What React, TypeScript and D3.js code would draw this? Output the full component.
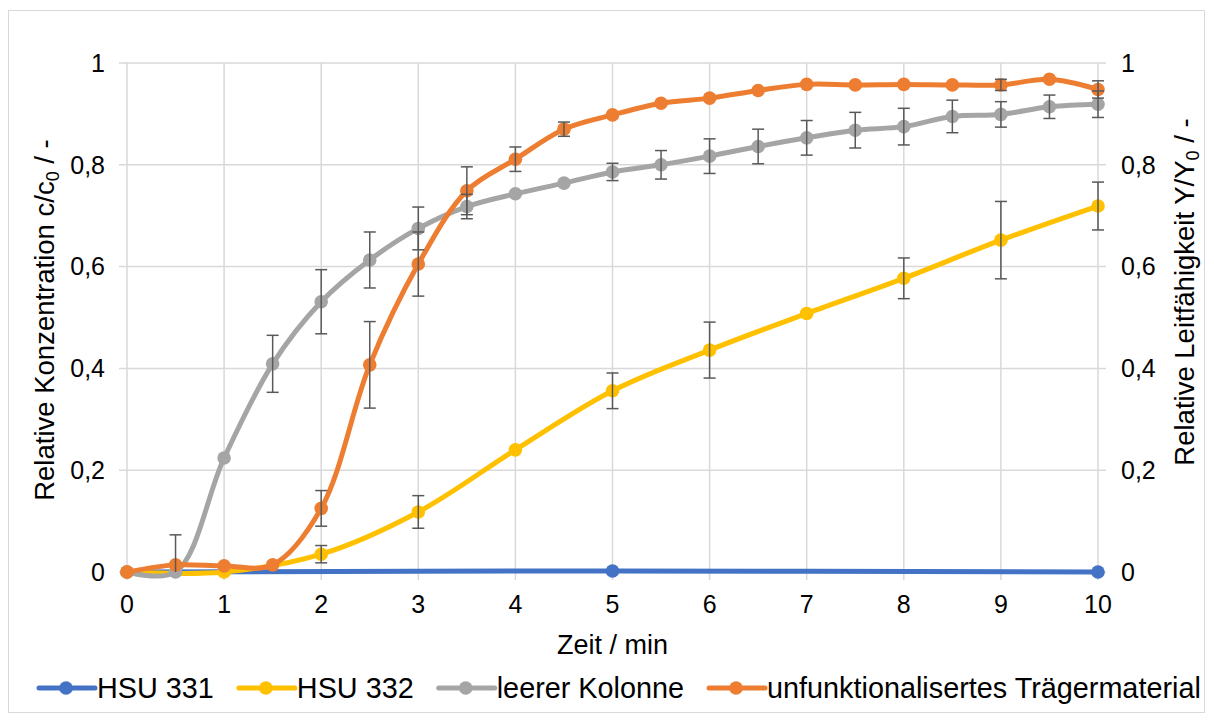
import React, { useEffect, useRef } from "react";
import * as d3 from "d3";

// Time axis (min) and measured ratios for each column run
const timeHSU331 = [0, 5, 10];
const valHSU331 = [0, 0.002, 0];
const errHSU331 = [0, 0, 0];

const timeHSU332 = [0, 1, 2, 3, 4, 5, 6, 7, 8, 9, 10];
const valHSU332 = [0, 0, 0.035, 0.118, 0.24, 0.356, 0.436, 0.508, 0.577, 0.652, 0.719];
const errHSU332 = [0, 0, 0.017, 0.032, 0, 0.035, 0.055, 0, 0.04, 0.076, 0.047];

const timeHalf = [0, 0.5, 1, 1.5, 2, 2.5, 3, 3.5, 4, 4.5, 5, 5.5, 6, 6.5, 7, 7.5, 8, 8.5, 9, 9.5, 10];
const valLeer = [0, 0, 0.224, 0.409, 0.531, 0.613, 0.675, 0.718, 0.743, 0.764, 0.786, 0.8, 0.817, 0.836, 0.853, 0.868, 0.875, 0.895, 0.899, 0.914, 0.919];
const errLeer = [0, 0.073, 0, 0.056, 0.063, 0.055, 0.042, 0.024, 0, 0, 0.017, 0.028, 0.034, 0.034, 0.034, 0.035, 0.036, 0.032, 0.025, 0.023, 0.026];

const valTraeger = [0, 0.014, 0.012, 0.014, 0.125, 0.407, 0.605, 0.749, 0.811, 0.87, 0.898, 0.921, 0.931, 0.946, 0.958, 0.957, 0.958, 0.957, 0.957, 0.968, 0.948];
const errTraeger = [0, 0, 0, 0, 0.035, 0.085, 0.063, 0.047, 0.024, 0.014, 0, 0, 0, 0, 0, 0, 0, 0, 0.011, 0, 0.017];

const seriesNames = ["HSU 331", "HSU 332", "leerer Kolonne", "unfunktionalisertes Trägermaterial"];
const seriesColors = ["#4472C4", "#FFC000", "#A5A5A5", "#ED7D31"];

const xTicks = [0, 1, 2, 3, 4, 5, 6, 7, 8, 9, 10];
const yTicks = [0, 0.2, 0.4, 0.6, 0.8, 1];
const yTickLabels = ["0", "0,2", "0,4", "0,6", "0,8", "1"];

const W = 1214;
const H = 722;
const FONT = "'Liberation Sans', Arial, sans-serif";

export default function App() {
  const ref = useRef<SVGSVGElement | null>(null);

  useEffect(() => {
    const svg = d3.select(ref.current);
    svg.selectAll("*").remove();

    const left = 127, right = 1098, top = 63, bottom = 572;
    const x = d3.scaleLinear().domain([0, 10]).range([left, right]);
    const y = d3.scaleLinear().domain([0, 1]).range([bottom, top]);

    const series = [
      { t: timeHSU331, v: valHSU331, e: errHSU331 },
      { t: timeHSU332, v: valHSU332, e: errHSU332 },
      { t: timeHalf, v: valLeer, e: errLeer },
      { t: timeHalf, v: valTraeger, e: errTraeger },
    ].map((s, i) => ({
      name: seriesNames[i],
      color: seriesColors[i],
      pts: s.t.map((t, k) => ({ t, v: s.v[k], e: s.e[k] })),
    }));

    // chart frame
    svg.append("rect")
      .attr("x", 8.5).attr("y", 10.5).attr("width", 1196).attr("height", 702)
      .attr("fill", "#fff").attr("stroke", "#D9D9D9").attr("stroke-width", 1);

    const grid = svg.append("g").attr("stroke", "#D9D9D9").attr("stroke-width", 1.5);
    yTicks.forEach((t) => {
      grid.append("line")
        .attr("x1", left - 8).attr("x2", right + 8)
        .attr("y1", y(t)).attr("y2", y(t));
    });
    xTicks.forEach((t) => {
      grid.append("line")
        .attr("x1", x(t)).attr("x2", x(t))
        .attr("y1", top).attr("y2", bottom + 8);
    });

    const txt = svg.append("g").attr("font-family", FONT).attr("fill", "#000");
    yTicks.forEach((t, i) => {
      txt.append("text").attr("x", 105).attr("y", y(t)).attr("dy", "0.35em")
        .attr("text-anchor", "end").attr("font-size", 25).text(yTickLabels[i]);
      txt.append("text").attr("x", 1121).attr("y", y(t)).attr("dy", "0.35em")
        .attr("text-anchor", "start").attr("font-size", 25).text(yTickLabels[i]);
    });
    xTicks.forEach((t) => {
      txt.append("text").attr("x", x(t)).attr("y", 604).attr("dy", "0.35em")
        .attr("text-anchor", "middle").attr("font-size", 25).text(String(t));
    });

    txt.append("text").attr("x", (left + right) / 2).attr("y", 645).attr("dy", "0.35em")
      .attr("text-anchor", "middle").attr("font-size", 27).text("Zeit / min");

    const yl = txt.append("text").attr("text-anchor", "middle").attr("font-size", 27.5)
      .attr("transform", `translate(54,320) rotate(-90)`);
    yl.append("tspan").text("Relative Konzentration c/c");
    yl.append("tspan").attr("font-size", 18).attr("dy", 5).text("0");
    yl.append("tspan").attr("dy", -5).text(" / -");

    const yr = txt.append("text").attr("text-anchor", "middle").attr("font-size", 27.5)
      .attr("transform", `translate(1194,292) rotate(-90)`);
    yr.append("tspan").text("Relative Leitfähigkeit Y/Y");
    yr.append("tspan").attr("font-size", 18).attr("dy", 5).text("0");
    yr.append("tspan").attr("dy", -5).text(" / -");

    const line = d3.line<{ t: number; v: number }>()
      .x((d) => x(d.t)).y((d) => y(d.v))
      .curve(d3.curveCatmullRom.alpha(0.5));

    const marks = svg.append("g");
    series.forEach((s) => {
      marks.append("path").attr("d", line(s.pts) || "")
        .attr("fill", "none").attr("stroke", s.color)
        .attr("stroke-width", 5).attr("stroke-linejoin", "round").attr("stroke-linecap", "round");
      marks.selectAll(null).data(s.pts).enter().append("circle")
        .attr("cx", (d) => x(d.t)).attr("cy", (d) => y(d.v)).attr("r", 6.8)
        .attr("fill", s.color);
    });

    const eb = svg.append("g").attr("stroke", "#595959").attr("stroke-width", 1.5);
    series.forEach((s) => {
      s.pts.filter((d) => d.e > 0).forEach((d) => {
        const cx = x(d.t);
        const y1 = y(Math.min(1, d.v + d.e));
        const y2 = y(Math.max(0, d.v - d.e));
        eb.append("line").attr("x1", cx).attr("x2", cx).attr("y1", y1).attr("y2", y2);
        if (d.v + d.e <= 1) eb.append("line").attr("x1", cx - 6).attr("x2", cx + 6).attr("y1", y1).attr("y2", y1);
        if (d.v - d.e >= 0) eb.append("line").attr("x1", cx - 6).attr("x2", cx + 6).attr("y1", y2).attr("y2", y2);
      });
    });

    // legend laid out from measured text widths
    const lg = svg.append("g").attr("font-family", FONT).attr("font-size", 28.8);
    let cx = 39;
    const ly = 688;
    series.forEach((s) => {
      lg.append("line").attr("x1", cx).attr("x2", cx + 56).attr("y1", ly).attr("y2", ly)
        .attr("stroke", s.color).attr("stroke-width", 5).attr("stroke-linecap", "round");
      lg.append("circle").attr("cx", cx + 27).attr("cy", ly).attr("r", 6.8).attr("fill", s.color);
      const t = lg.append("text").attr("x", cx + 58).attr("y", ly).attr("dy", "0.35em").text(s.name);
      const w = (t.node() as SVGTextElement).getComputedTextLength();
      cx = cx + 58 + w + 25;
    });
  }, []);

  return (
    <svg ref={ref} width={W} height={H}
      style={{ position: "absolute", left: 0, top: 0, background: "#fff" }} />
  );
}
